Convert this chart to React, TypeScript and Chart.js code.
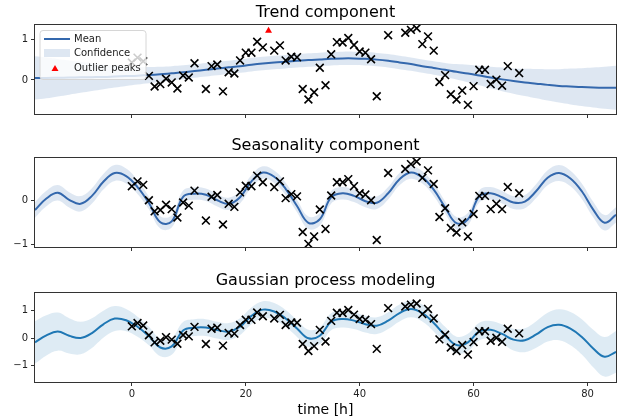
import React, { useEffect, useRef } from 'react';
import { Chart, registerables } from 'chart.js';

Chart.register(...registerables);
Chart.defaults.font.family = '"DejaVu Sans", sans-serif';

// ---------- data ----------
const gridT = [-17, -15, -13, -11, -9, -7, -5, -3, -1, 1, 3, 5, 7, 9, 11, 13, 15, 17, 19, 21, 23, 25, 27, 29, 31, 33, 35, 37, 39, 41, 43, 45, 47, 49, 51, 53, 55, 57, 59, 61, 63, 65, 67, 69, 71, 73, 75, 77, 79, 81, 83, 85];

const trendMean = [0.05, 0.05, 0.055, 0.06, 0.065, 0.07, 0.075, 0.085, 0.095, 0.105, 0.12, 0.14, 0.165, 0.19, 0.22, 0.25, 0.28, 0.31, 0.34, 0.375, 0.405, 0.43, 0.45, 0.47, 0.49, 0.505, 0.52, 0.53, 0.53, 0.52, 0.5, 0.47, 0.43, 0.39, 0.34, 0.295, 0.25, 0.2, 0.16, 0.11, 0.06, 0.015, -0.025, -0.06, -0.09, -0.12, -0.145, -0.16, -0.175, -0.185, -0.19, -0.19];
const trendStd = [0.53, 0.5, 0.46, 0.42, 0.38, 0.34, 0.3, 0.27, 0.24, 0.215, 0.2, 0.185, 0.175, 0.17, 0.165, 0.165, 0.165, 0.165, 0.165, 0.165, 0.165, 0.165, 0.165, 0.165, 0.165, 0.165, 0.165, 0.165, 0.165, 0.165, 0.165, 0.165, 0.165, 0.165, 0.165, 0.165, 0.17, 0.19, 0.215, 0.24, 0.265, 0.29, 0.31, 0.335, 0.36, 0.385, 0.41, 0.44, 0.465, 0.49, 0.515, 0.54];

const seasonMean = [-0.21, 0.05, 0.18, 0.02, -0.07, 0.11, 0.43, 0.63, 0.56, 0.31, -0.05, -0.49, -0.47, 0.09, 0.16, 0.135, 0.01, -0.07, 0.08, 0.44, 0.64, 0.545, 0.27, -0.12, -0.5, -0.42, 0.08, 0.17, 0.11, -0.01, -0.045, 0.17, 0.49, 0.64, 0.53, 0.25, -0.15, -0.51, -0.42, 0.1, 0.17, 0.08, -0.04, -0.02, 0.22, 0.52, 0.63, 0.505, 0.215, -0.2, -0.5, -0.32];
const seasonStd = [0.175, 0.175, 0.175, 0.175, 0.175, 0.175, 0.175, 0.18, 0.17, 0.155, 0.145, 0.14, 0.14, 0.14, 0.14, 0.14, 0.14, 0.14, 0.14, 0.14, 0.14, 0.14, 0.14, 0.14, 0.14, 0.14, 0.14, 0.14, 0.14, 0.14, 0.14, 0.14, 0.14, 0.14, 0.14, 0.14, 0.14, 0.14, 0.14, 0.14, 0.14, 0.14, 0.145, 0.15, 0.16, 0.17, 0.18, 0.175, 0.175, 0.175, 0.175, 0.175];

const gpMean = [-0.16, 0.1, 0.235, 0.08, 0.0, 0.18, 0.505, 0.715, 0.655, 0.415, 0.07, -0.35, -0.31, 0.28, 0.38, 0.385, 0.29, 0.24, 0.42, 0.815, 1.045, 0.975, 0.72, 0.35, -0.01, 0.085, 0.6, 0.7, 0.64, 0.51, 0.455, 0.64, 0.92, 1.07, 0.92, 0.55, 0.1, -0.26, -0.16, 0.24, 0.3, 0.15, -0.06, -0.08, 0.13, 0.4, 0.485, 0.345, 0.04, -0.385, -0.69, -0.51];
const gpStd = [0.78, 0.74, 0.7, 0.65, 0.6, 0.55, 0.5, 0.46, 0.41, 0.37, 0.34, 0.32, 0.31, 0.31, 0.31, 0.31, 0.31, 0.31, 0.31, 0.31, 0.31, 0.31, 0.31, 0.31, 0.31, 0.31, 0.31, 0.31, 0.31, 0.31, 0.31, 0.31, 0.31, 0.31, 0.31, 0.31, 0.31, 0.31, 0.315, 0.32, 0.33, 0.36, 0.4, 0.44, 0.49, 0.53, 0.57, 0.61, 0.65, 0.69, 0.73, 0.77];

const obsT = [0, 1, 2, 3, 4, 5, 6, 7, 8, 9, 10, 11, 13, 14, 15, 16, 17, 18, 19, 20, 21, 22, 23, 25, 26, 27, 28, 29, 30, 31, 32, 33, 34, 35, 36, 37, 38, 39, 40, 41, 42, 43, 45, 48, 49, 50, 51, 52, 53, 54, 55, 56, 57, 58, 59, 60, 61, 62, 63, 64, 65, 66, 68];
const obsY = [0.43, 0.55, 0.46, 0.1, -0.16, -0.1, 0.03, -0.06, -0.21, 0.11, 0.06, 0.41, -0.22, 0.34, 0.38, -0.28, 0.19, 0.16, 0.48, 0.67, 0.67, 0.94, 0.8, 0.72, 0.85, 0.48, 0.57, 0.56, -0.22, -0.48, -0.3, 0.3, -0.13, 0.63, 0.93, 0.92, 1.03, 0.86, 0.7, 0.67, 0.51, -0.4, 1.1, 1.16, 1.23, 1.27, 0.88, 1.07, 0.72, -0.05, 0.12, -0.35, -0.48, -0.26, -0.61, -0.15, 0.25, 0.25, -0.1, 0.01, -0.14, 0.34, 0.17];
const seasonObs = [0.33, 0.44, 0.36, 0.01, -0.24, -0.21, -0.09, -0.19, -0.38, -0.04, -0.11, 0.23, -0.45, 0.09, 0.13, -0.54, -0.07, -0.14, 0.19, 0.34, 0.33, 0.57, 0.42, 0.31, 0.44, 0.06, 0.15, 0.1, -0.71, -0.98, -0.81, -0.2, -0.64, 0.12, 0.42, 0.42, 0.49, 0.33, 0.17, 0.14, 0.01, -0.89, 0.63, 0.72, 0.83, 0.89, 0.52, 0.69, 0.38, -0.37, -0.17, -0.62, -0.72, -0.49, -0.81, -0.3, 0.11, 0.11, -0.19, -0.07, -0.19, 0.31, 0.17];

const outlierT = [24];
const outlierY = [1.21];

const xTicks = [0, 20, 40, 60, 80];
const trendYTicks = [0, 1];
const seasonYTicks = [-1, 0];
const gpYTicks = [-1, 0, 1];

const titles = ['Trend component', 'Seasonality component', 'Gaussian process modeling'];
const legendLabels = ['Mean', 'Confidence', 'Outlier peaks'];
const xLabel = 'time [h]';

// ---------- styles ----------
const compLine = '#3468ad';
const compBand = 'rgba(52,104,173,0.16)';
const gpLine = '#1f77b4';
const gpBand = 'rgba(31,119,180,0.15)';
const FONT = '"DejaVu Sans", sans-serif';

const framePlugin = {
  id: 'frame',
  afterDatasetsDraw(chart: any) {
    const { ctx, chartArea: a } = chart;
    ctx.save();
    ctx.strokeStyle = '#333';
    ctx.lineWidth = 1;
    ctx.strokeRect(a.left - 0.5, a.top - 0.5, a.right - a.left + 1, a.bottom - a.top + 1);
    ctx.restore();
  },
};

const titlePlugin = {
  id: 'panelTitle',
  afterDraw(chart: any, _args: any, opts: any) {
    if (!opts || !opts.text) return;
    const { ctx, chartArea: a } = chart;
    ctx.save();
    ctx.font = `16px ${FONT}`;
    ctx.fillStyle = '#000';
    ctx.textAlign = 'center';
    ctx.textBaseline = 'middle';
    ctx.fillText(opts.text, (a.left + a.right) / 2, a.top - opts.offset);
    ctx.restore();
  },
};

const legendPlugin = {
  id: 'boxLegend',
  afterDraw(chart: any, _args: any, opts: any) {
    if (!opts || !opts.labels) return;
    const { ctx, chartArea: a } = chart;
    const x0 = a.left + 5;
    const y0 = a.top + 5.5;
    const w = 106;
    const h = 49;
    const r = 3;
    ctx.save();
    ctx.beginPath();
    ctx.moveTo(x0 + r, y0);
    ctx.lineTo(x0 + w - r, y0);
    ctx.arcTo(x0 + w, y0, x0 + w, y0 + r, r);
    ctx.lineTo(x0 + w, y0 + h - r);
    ctx.arcTo(x0 + w, y0 + h, x0 + w - r, y0 + h, r);
    ctx.lineTo(x0 + r, y0 + h);
    ctx.arcTo(x0, y0 + h, x0, y0 + h - r, r);
    ctx.lineTo(x0, y0 + r);
    ctx.arcTo(x0, y0, x0 + r, y0, r);
    ctx.closePath();
    ctx.fillStyle = 'rgba(255,255,255,0.8)';
    ctx.fill();
    ctx.strokeStyle = '#d6d6d6';
    ctx.lineWidth = 1;
    ctx.stroke();

    const hx0 = x0 + 4;
    const hx1 = x0 + 30;
    const rows = [y0 + 8.5, y0 + 22.5, y0 + 38];
    ctx.strokeStyle = opts.lineColor;
    ctx.lineWidth = 2;
    ctx.beginPath();
    ctx.moveTo(hx0, rows[0]);
    ctx.lineTo(hx1, rows[0]);
    ctx.stroke();
    ctx.fillStyle = opts.bandColor;
    ctx.fillRect(hx0, rows[1] - 4, hx1 - hx0, 8);
    ctx.fillStyle = 'red';
    ctx.beginPath();
    const cx = x0 + 15;
    const cy = rows[2];
    ctx.moveTo(cx, cy - 3.5);
    ctx.lineTo(cx + 3.5, cy + 2.5);
    ctx.lineTo(cx - 3.5, cy + 2.5);
    ctx.closePath();
    ctx.fill();

    ctx.fillStyle = '#222';
    ctx.font = `10px ${FONT}`;
    ctx.textAlign = 'left';
    ctx.textBaseline = 'middle';
    opts.labels.forEach((t: string, i: number) => ctx.fillText(t, x0 + 34, rows[i]));
    ctx.restore();
  },
};

function series(ts: number[], ys: number[]) {
  return ts.map((t, i) => ({ x: t, y: ys[i] }));
}

function minusLabel(v: number) {
  return v < 0 ? '\u2212' + Math.abs(v) : String(v);
}

interface PanelCfg {
  title: string;
  mean: number[];
  std: number[];
  pts: number[];
  yMin: number;
  yMax: number;
  yTicks: number[];
  lineColor: string;
  bandColor: string;
  top: number;
  bottomPad: number;
  xHeight: number;
  showX: boolean;
  outliers?: boolean;
  legend?: boolean;
}

function makePanel(canvas: HTMLCanvasElement, c: PanelCfg) {
  const lower = gridT.map((t, i) => ({ x: t, y: c.mean[i] - c.std[i] }));
  const upper = gridT.map((t, i) => ({ x: t, y: c.mean[i] + c.std[i] }));
  const datasets: any[] = [
    {
      type: 'scatter',
      data: series(obsT, c.pts),
      pointStyle: 'crossRot',
      pointRadius: 5.5,
      borderColor: '#000',
      backgroundColor: '#000',
      pointBorderWidth: 1.6,
      borderWidth: 1.6,
      order: 0,
    },
    {
      type: 'line',
      data: series(gridT, c.mean),
      borderColor: c.lineColor,
      borderWidth: 2,
      pointRadius: 0,
      tension: 0.4,
      fill: false,
      order: 1,
    },
    {
      type: 'line',
      data: lower,
      borderWidth: 0,
      borderColor: 'rgba(0,0,0,0)',
      pointRadius: 0,
      tension: 0.4,
      fill: false,
      order: 3,
    },
    {
      type: 'line',
      data: upper,
      borderWidth: 0,
      borderColor: 'rgba(0,0,0,0)',
      backgroundColor: c.bandColor,
      pointRadius: 0,
      tension: 0.4,
      fill: { target: 2 },
      order: 2,
    },
  ];
  if (c.outliers) {
    datasets.push({
      type: 'scatter',
      data: series(outlierT, outlierY),
      pointStyle: 'triangle',
      pointRadius: 4,
      backgroundColor: 'red',
      borderColor: 'red',
      borderWidth: 0,
      order: 0,
    });
  }
  return new Chart(canvas, {
    type: 'line',
    data: { datasets },
    plugins: [framePlugin, titlePlugin, legendPlugin],
    options: {
      animation: false,
      responsive: false,
      devicePixelRatio: 1,
      events: [],
      layout: { padding: { left: 0, right: 8, top: c.top, bottom: c.bottomPad } },
      plugins: {
        legend: { display: false },
        tooltip: { enabled: false },
        title: { display: false },
        panelTitle: { text: c.title, offset: 12.5 },
        boxLegend: c.legend ? { labels: legendLabels, lineColor: c.lineColor, bandColor: c.bandColor } : {},
      } as any,
      scales: {
        x: {
          type: 'linear',
          min: -17,
          max: 85,
          afterBuildTicks: (s: any) => {
            s.ticks = xTicks.map((v) => ({ value: v }));
          },
          afterFit: (s: any) => {
            s.height = c.xHeight;
          },
          grid: { drawOnChartArea: false, drawTicks: true, tickLength: 4, color: '#333', lineWidth: 1 },
          border: { display: false },
          ticks: {
            display: c.showX,
            font: { size: 10, family: FONT },
            color: '#222',
            padding: 2,
            maxRotation: 0,
            autoSkip: false,
            callback: (v: any) => minusLabel(Number(v)),
          },
          title: {
            display: c.showX,
            text: xLabel,
            font: { size: 14, family: FONT },
            color: '#000',
            padding: { top: 0, bottom: 1 },
          },
        },
        y: {
          type: 'linear',
          min: c.yMin,
          max: c.yMax,
          afterBuildTicks: (s: any) => {
            s.ticks = c.yTicks.map((v) => ({ value: v }));
          },
          afterFit: (s: any) => {
            s.width = 35;
          },
          grid: { drawOnChartArea: false, drawTicks: true, tickLength: 4, color: '#333', lineWidth: 1 },
          border: { display: false },
          ticks: {
            font: { size: 10, family: FONT },
            color: '#222',
            padding: 3,
            callback: (v: any) => minusLabel(Number(v)),
          },
        },
      },
    } as any,
  });
}

export default function App() {
  const r1 = useRef<HTMLCanvasElement>(null);
  const r2 = useRef<HTMLCanvasElement>(null);
  const r3 = useRef<HTMLCanvasElement>(null);

  useEffect(() => {
    const charts = [
      makePanel(r1.current!, {
        title: titles[0], mean: trendMean, std: trendStd, pts: obsY,
        yMin: -0.835, yMax: 1.35, yTicks: trendYTicks,
        lineColor: compLine, bandColor: compBand,
        top: 25, bottomPad: 12, xHeight: 8, showX: false, outliers: true, legend: true,
      }),
      makePanel(r2.current!, {
        title: titles[1], mean: seasonMean, std: seasonStd, pts: seasonObs,
        yMin: -1.05, yMax: 0.97, yTicks: seasonYTicks,
        lineColor: compLine, bandColor: compBand,
        top: 24, bottomPad: 13, xHeight: 8, showX: false,
      }),
      makePanel(r3.current!, {
        title: titles[2], mean: gpMean, std: gpStd, pts: obsY,
        yMin: -1.62, yMax: 1.657, yTicks: gpYTicks,
        lineColor: gpLine, bandColor: gpBand,
        top: 25, bottomPad: 0, xHeight: 38, showX: true,
      }),
    ];
    return () => charts.forEach((ch) => ch.destroy());
  }, []);

  return (
    <div style={{ position: 'fixed', left: 0, top: 0, width: 624, height: 420, background: '#fff', overflow: 'hidden' }}>
      <canvas ref={r1} width={624} height={134} style={{ position: 'absolute', left: 0, top: 0 }} />
      <canvas ref={r2} width={624} height={134} style={{ position: 'absolute', left: 0, top: 134 }} />
      <canvas ref={r3} width={624} height={152} style={{ position: 'absolute', left: 0, top: 268 }} />
    </div>
  );
}
